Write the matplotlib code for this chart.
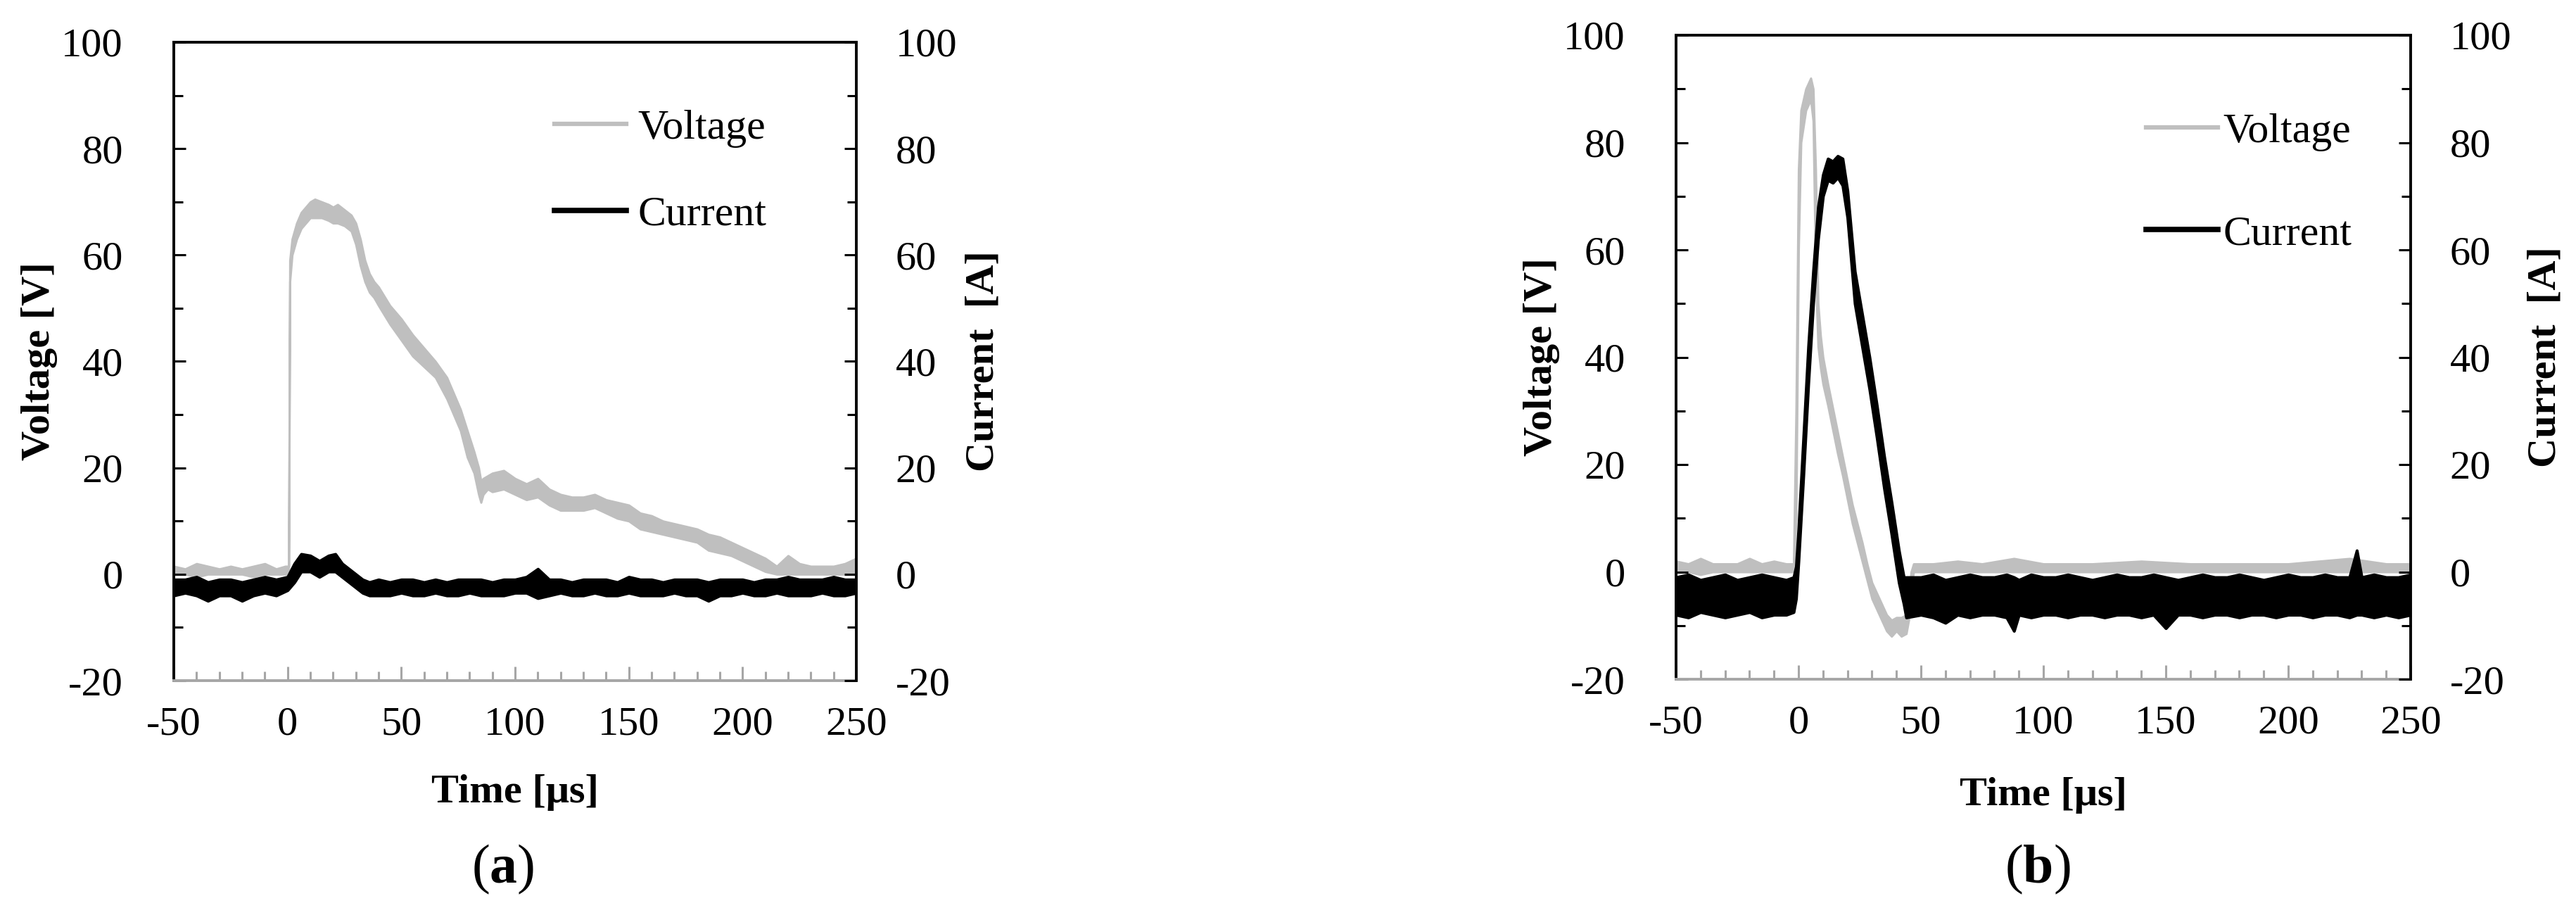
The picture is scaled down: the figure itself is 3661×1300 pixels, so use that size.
import matplotlib
matplotlib.use("Agg")
import matplotlib.pyplot as plt
from matplotlib.lines import Line2D
from matplotlib.ticker import MultipleLocator

plt.rcParams['font.family'] = 'Liberation Serif'
plt.rcParams['mathtext.fontset'] = 'custom'
plt.rcParams['mathtext.rm'] = 'Liberation Serif'
plt.rcParams['mathtext.bf'] = 'Liberation Serif:bold'
plt.rcParams['axes.unicode_minus'] = False

# ---- panel (a): voltage trace, noise band (lo / hi) ----
ta_volt = [-50, -45, -40, -35, -30, -25, -20, -15, -10, -5,
           -1, 0.5, 1, 2, 4, 6, 8, 10, 12, 15,
           18, 20, 22, 25, 28, 30, 32, 34, 36, 38,
           40, 45, 50, 55, 60, 65, 70, 73, 76, 79,
           82, 84, 85, 86, 88, 90, 95, 100, 105, 110,
           115, 120, 125, 130, 135, 140, 145, 150, 155, 160,
           165, 170, 175, 180, 185, 190, 195, 200, 205, 210,
           215, 220, 225, 230, 235, 240, 245, 250]
va_lo = [0, 0, -0.5, 0, 0, 0, 0, -0.5, 0, 0,
         0, 0, 55, 60, 63, 65, 66, 67, 67, 67,
         66.5, 66, 66, 65.5, 64.5, 62, 58, 55, 53, 52,
         50.5, 47, 44, 41, 39, 37, 33, 30, 27, 22,
         19, 15, 13.5, 15, 16, 15.5, 16, 15, 14, 14.5,
         13, 12, 12, 12, 12.5, 11.5, 10.5, 10, 8.5, 8,
         7.5, 7, 6.5, 6, 4.5, 4, 3.5, 2.5, 1.5, 0.5,
         0, 0, 0, 0, 0, 0, 0, 0]
va_hi = [1.5, 1, 2, 1.5, 1, 1.5, 1, 1.5, 2, 1,
         1.5, 1.5, 59, 63, 66, 68, 69, 70, 70.5, 70,
         69.5, 69, 69.5, 68.5, 67.5, 66, 63, 59, 56.5, 55,
         54, 50.5, 48, 45, 42.5, 40, 37, 34, 31, 27,
         23, 20, 17.5, 18, 18.5, 19, 19.5, 18, 17, 18,
         16, 15, 14.5, 14.5, 15, 14, 13.5, 13, 11.5, 11,
         10, 9.5, 9, 8.5, 7.5, 7, 6, 5, 4, 3,
         1.5, 3.5, 2, 1.5, 1.5, 1.5, 2, 3]

# ---- panel (a): current trace ----
ta_curr = [-50, -45, -40, -35, -30, -25, -20, -15, -10, -5,
           0, 3, 6, 10, 14, 18, 21, 24, 27, 30,
           33, 36, 40, 45, 50, 55, 60, 65, 70, 75,
           80, 85, 90, 95, 100, 105, 110, 115, 120, 125,
           130, 135, 140, 145, 150, 155, 160, 165, 170, 175,
           180, 185, 190, 195, 200, 205, 210, 215, 220, 225,
           230, 235, 240, 245, 250]
ia_lo = [-4, -3.5, -4, -5, -4, -4, -5, -4, -3.5, -4,
         -3, -1.5, 0.5, 0.5, -0.5, 0.5, 0.5, -0.5, -1.5, -2.5,
         -3.5, -4, -4, -4, -3.5, -4, -4, -3.5, -4, -4,
         -3.5, -4, -4, -4, -3.5, -3.5, -4.5, -4, -3.5, -4,
         -4, -3.5, -4, -4, -3.5, -4, -4, -4, -3.5, -4,
         -4, -5, -4, -4, -3.5, -4, -4, -3.5, -4, -4,
         -4, -3.5, -4, -4, -3.5]
ia_hi = [-1, -1, -0.5, -1.5, -1, -1, -1.5, -1, -0.5, -1,
         -0.5, 2, 3.8, 3.5, 2.5, 3.5, 3.8, 2, 1, 0,
         -1, -1.5, -1, -1.5, -1, -1, -1.5, -1, -1.5, -1,
         -1, -1, -1.5, -1, -1, -0.5, 1, -1, -1, -1.5,
         -1, -1, -1, -1.5, -0.5, -1, -1, -1.5, -1, -1,
         -1, -1.5, -1, -1, -1, -1.5, -1, -1, -0.5, -1,
         -1, -1, -0.5, -1, -1]

# ---- panel (b): voltage trace ----
tb_volt = [-50, -45, -40, -35, -30, -25, -20, -15, -10, -5,
           -2, -1, 0, 1, 3, 5, 6, 7, 8, 9,
           10, 12, 14, 16, 18, 20, 22, 24, 26, 28,
           30, 32, 34, 36, 38, 40, 42, 44, 45, 46,
           47, 55, 65, 75, 88, 100, 120, 140, 160, 180,
           200, 225, 240, 250]
vb_lo = [0, 0, -0.5, 0, 0, 0, 0, 0, 0, 0,
         0, 10, 60, 80, 86, 88, 84, 55, 42, 38,
         35, 31, 26.5, 22, 18, 13.5, 9, 5.5, 2, -1.5,
         -5, -7, -9, -11, -12, -11, -12, -11.5, -9, -3,
         0, 0, 0, 0, 0, 0, 0, 0, 0, 0,
         0, 0, 0, 0]
vb_hi = [2, 1.5, 2.5, 1.5, 1.5, 1.5, 2.5, 1.5, 2, 1.5,
         1.5, 30, 75, 86, 90, 92, 90, 75, 50, 44,
         40, 35, 30.5, 26, 21.5, 17, 12.5, 9, 5.5, 1.5,
         -2, -4, -6, -8, -9, -8.5, -8.5, -8, -5, 0,
         1.5, 1.5, 2, 1.5, 2.5, 1.5, 1.5, 2, 1.5, 1.5,
         1.5, 2.5, 1.5, 1.5]

# ---- panel (b): current trace ----
tb_curr = [-50, -45, -40, -35, -30, -25, -20, -15, -10, -5,
           -2, -1, 0, 2, 4, 6, 8, 10, 12, 14,
           16, 18, 20, 23, 26, 29, 32, 35, 38, 41,
           43, 44, 50, 55, 60, 65, 70, 75, 80, 85,
           88, 90, 95, 100, 105, 110, 115, 120, 125, 130,
           135, 140, 145, 150, 155, 160, 165, 170, 175, 180,
           185, 190, 195, 200, 205, 210, 215, 220, 225, 228,
           230, 235, 240, 245, 250]
ib_lo = [-8, -8.5, -7.5, -8, -8.5, -8, -7.5, -8.5, -8, -8,
         -7.5, -5, 2, 18, 35, 50, 62, 70, 73, 72.5,
         73.5, 72, 66, 50, 42, 34, 25, 15.5, 7, -2,
         -6, -8.5, -8, -8.5, -9.5, -8, -8.5, -8, -8, -8.5,
         -11, -8, -8.5, -8, -8, -8.5, -8, -8, -8.5, -8,
         -8, -8.5, -8, -10.5, -8, -8, -8.5, -8, -8, -8.5,
         -8, -8, -8.5, -8, -8, -8.5, -8, -8, -8.5, -8,
         -8, -8.5, -8, -8.5, -8]
ib_hi = [-1, -0.5, -1.5, -1, -0.5, -1.5, -1, -0.5, -1, -1.5,
         -1, 1, 8, 25, 42, 56, 68, 74, 77, 76.5,
         77.5, 77, 71, 56, 48, 40, 31, 21.5, 13, 4,
         -1, -1, -1, -0.5, -1.5, -1, -0.5, -1, -1, -0.5,
         -1, -1.5, -0.5, -1, -1, -0.5, -1, -1.5, -1, -0.5,
         -1, -1, -0.5, -1, -1.5, -1, -0.5, -1, -1, -0.5,
         -1, -1.5, -1, -0.5, -1, -1, -0.5, -1, -1, 4,
         -1, -0.5, -1, -1, -0.5]

for a, b, c in [(ta_volt, va_lo, va_hi), (ta_curr, ia_lo, ia_hi),
                (tb_volt, vb_lo, vb_hi), (tb_curr, ib_lo, ib_hi)]:
    assert len(a) == len(b) == len(c), (len(a), len(b), len(c))

x_ticks = [-50, 0, 50, 100, 150, 200, 250]
y_ticks = [-20, 0, 20, 40, 60, 80, 100]

GREY = '#BFBFBF'
AXGREY = '#A6A6A6'
W, H = 3662, 1300
TICK_FS = 42
LAB_FS = 42
LEG_FS = 43


def panel(fig, box, volt, curr, ylab_x, y2lab_x, xlab_y, leg_xy, leg_space, leg_textpad, tag, tag_xy):
    # box = (left, top, right, bottom) in pixels
    l, t, r, b = box
    ax = fig.add_axes([l / W, 1 - b / H, (r - l) / W, (b - t) / H])
    ax2 = ax.twinx()

    tv, vlo, vhi = volt
    ti, ilo, ihi = curr
    ax.fill_between(tv, vlo, vhi, facecolor=GREY, edgecolor=GREY, lw=2.2)
    ax2.fill_between(ti, ilo, ihi, facecolor='black', edgecolor='black', lw=3.0)

    for a in (ax, ax2):
        a.set_xlim(-50, 250)
        a.set_ylim(-20, 100)
        a.set_yticks(y_ticks)
        a.yaxis.set_minor_locator(MultipleLocator(10))
    ax.set_xticks(x_ticks)
    ax.xaxis.set_minor_locator(MultipleLocator(10))

    ax.tick_params(axis='y', which='major', direction='in', length=12, width=2.2,
                   labelsize=TICK_FS, pad=52)
    ax.tick_params(axis='y', which='minor', direction='in', length=9.5, width=2.2)
    ax.tick_params(axis='x', which='major', direction='in', length=14.5, width=2.2,
                   color=AXGREY, labelcolor='black', labelsize=TICK_FS, pad=26)
    ax.tick_params(axis='x', which='minor', direction='in', length=9.5, width=2.2, color=AXGREY)
    ax2.tick_params(axis='y', which='major', direction='in', length=12, width=2.2,
                    labelsize=TICK_FS, pad=40)
    ax2.tick_params(axis='y', which='minor', direction='in', length=9.5, width=2.2)

    ax.spines['right'].set_visible(False)
    for s in ('top', 'left'):
        ax.spines[s].set_linewidth(2.8)
        ax.spines[s].set_color('black')
    ax.spines['bottom'].set_linewidth(2.8)
    ax.spines['bottom'].set_color(AXGREY)
    for s in ('top', 'left', 'bottom'):
        ax2.spines[s].set_visible(False)
    ax2.spines['right'].set_linewidth(2.8)
    ax2.spines['right'].set_color('black')

    ax.set_ylabel('Voltage [V]', fontsize=LAB_FS, fontweight='bold')
    ax.yaxis.set_label_coords(ylab_x, 0.5)
    ax.yaxis.label.set_va('center')
    ax2.set_ylabel('Current  [A]', fontsize=LAB_FS, fontweight='bold')
    ax2.yaxis.set_label_coords(y2lab_x, 0.5)
    ax2.yaxis.label.set_va('center')
    ax.set_xlabel('Time [μs]', fontsize=LAB_FS, fontweight='bold')
    ax.xaxis.set_label_coords(0.5, xlab_y)
    ax.xaxis.label.set_va('center')

    handles = [Line2D([], [], color=GREY, lw=4.5), Line2D([], [], color='black', lw=5.5)]
    ax2.legend(handles, ['Voltage', 'Current'], loc='upper left', bbox_to_anchor=leg_xy,
               frameon=False, fontsize=LEG_FS, borderpad=0, borderaxespad=0,
               handlelength=1.7, handletextpad=leg_textpad, labelspacing=leg_space)

    fig.text(tag_xy[0] / W, 1 - tag_xy[1] / H, r'($\mathbf{' + tag + r'}$)',
             fontsize=56, ha='center', va='center')
    return ax, ax2


fig = plt.figure(figsize=(W / 100, H / 100), dpi=100)

panel(fig, (247, 60, 1217, 967), (ta_volt, va_lo, va_hi), (ta_curr, ia_lo, ia_hi),
      ylab_x=-0.197, y2lab_x=1.186, xlab_y=-0.175,
      leg_xy=(0.558, 0.895), leg_space=1.14, leg_textpad=0.28,
      tag='a', tag_xy=(715, 1235))

panel(fig, (2382, 50, 3426, 965), (tb_volt, vb_lo, vb_hi), (tb_curr, ib_lo, ib_hi),
      ylab_x=-0.183, y2lab_x=1.183, xlab_y=-0.180,
      leg_xy=(0.640, 0.880), leg_space=1.52, leg_textpad=0.13,
      tag='b', tag_xy=(2896, 1235))

fig.savefig('out.png', dpi=100)
